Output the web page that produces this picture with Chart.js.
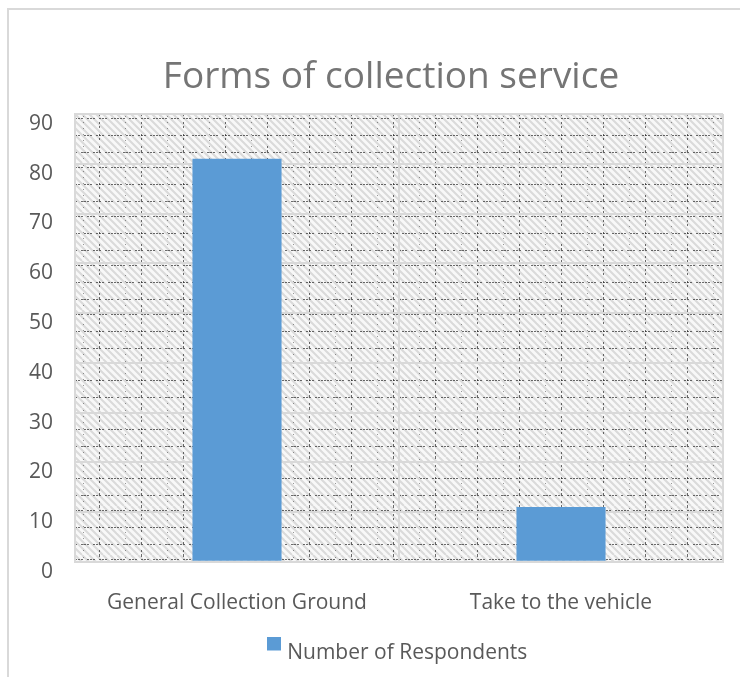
<!DOCTYPE html>
<html>
<head>
<meta charset="utf-8">
<script src="https://cdn.jsdelivr.net/npm/chart.js@4"></script>
<style>
  html, body { margin: 0; padding: 0; background: #ffffff; }
  #wrap { width: 740px; height: 677px; position: relative; }
</style>
</head>
<body>
<div id="wrap"><canvas id="chart" width="740" height="677"></canvas></div>
<script>
// Survey answers
const categories = ['General Collection Ground', 'Take to the vehicle'];
const respondents = [81, 11];
const seriesName = 'Number of Respondents';
const chartTitle = 'Forms of collection service';
const yTicks = [0, 10, 20, 30, 40, 50, 60, 70, 80, 90];

const textColor = '#595959';
const gridColor = '#d9d9d9';
const barColor = '#5b9bd5';
const fontFamily = '"Open Sans", sans-serif';

// hatched fill for the plot area: light diagonal stripes with dark dotted rows
function makePattern(ctx) {
    const w = 42, h = 49;
    const tile = document.createElement('canvas');
    tile.width = w;
    tile.height = h;
    const t = tile.getContext('2d');
    t.fillStyle = '#f8f8f8';
    t.fillRect(0, 0, w, h);
    t.strokeStyle = '#dadada';
    t.lineWidth = 2;
    for (let c = -h; c < w + h; c += 7) {
        t.beginPath();
        t.moveTo(c, 0);
        t.lineTo(c + h, h);
        t.stroke();
    }
    t.fillStyle = 'rgba(30,30,30,0.65)';
    [4, 21, 38].forEach((y, r) => {
        for (let x = 0; x < w; x += 3) {
            if ((x / 3 + r) % 4 !== 3) t.fillRect(x, y, 2, 1);
        }
    });
    for (let y = 0; y < h; y += 4) {
        if ((y / 4) % 3 !== 1) t.fillRect(24, y, 1, 2);
    }
    t.fillStyle = 'rgba(30,30,30,0.45)';
    for (let y = 2; y < h; y += 6) t.fillRect(8, y, 1, 1);
    return ctx.createPattern(tile, 'repeat');
}

// legend marker sitting a little above the text line
function makeLegendMarker() {
    const c = document.createElement('canvas');
    c.width = 14;
    c.height = 34;
    const g = c.getContext('2d');
    g.fillStyle = barColor;
    g.fillRect(0, 0, 14, 14);
    return c;
}

const plotBackground = {
    id: 'plotBackground',
    beforeDraw(chart) {
        const { ctx, chartArea: a } = chart;
        const pat = makePattern(ctx);
        pat.setTransform(new DOMMatrix().translate(a.left, a.top));
        ctx.save();
        ctx.fillStyle = pat;
        ctx.fillRect(a.left, a.top, a.right - a.left, a.bottom - a.top);
        ctx.restore();
    }
};

// frame round the chart object and the heading
const frameAndTitle = {
    id: 'frameAndTitle',
    afterDraw(chart) {
        const ctx = chart.ctx;
        ctx.save();
        ctx.strokeStyle = gridColor;
        ctx.lineWidth = 2;
        ctx.beginPath();
        ctx.moveTo(8, 677);
        ctx.lineTo(8, 9);
        ctx.lineTo(740, 9);
        ctx.stroke();

        ctx.fillStyle = '#757575';
        ctx.font = '37px ' + fontFamily;
        ctx.textAlign = 'center';
        ctx.textBaseline = 'alphabetic';
        ctx.fillText(chartTitle, 391, 88);
        ctx.restore();
    }
};

new Chart(document.getElementById('chart'), {
    type: 'bar',
    data: {
        labels: categories,
        datasets: [{
            label: seriesName,
            data: respondents,
            backgroundColor: barColor,
            borderWidth: 0,
            barPercentage: 1,
            categoryPercentage: 0.275
        }]
    },
    options: {
        responsive: false,
        animation: false,
        layout: { padding: { left: 8, right: 17, top: 114, bottom: 3 } },
        font: { family: fontFamily },
        plugins: {
            title: { display: false },
            legend: {
                position: 'bottom',
                fullSize: false,
                labels: {
                    color: textColor,
                    usePointStyle: true,
                    pointStyle: makeLegendMarker(),
                    pointStyleWidth: 6,
                    boxWidth: 14,
                    boxHeight: 14,
                    padding: 10,
                    font: { size: 21, family: fontFamily }
                }
            },
            tooltip: { enabled: false }
        },
        scales: {
            x: {
                grid: { color: gridColor, lineWidth: 2, drawTicks: false, offset: true },
                border: { color: gridColor, width: 2 },
                afterFit(scale) {
                    scale.height -= 12;
                },
                ticks: {
                    color: textColor,
                    padding: 29,
                    font: { size: 21, family: fontFamily }
                }
            },
            y: {
                min: 0,
                max: 90,
                afterBuildTicks(scale) {
                    scale.ticks = yTicks.map(v => ({ value: v }));
                },
                afterFit(scale) {
                    scale.width = 67;
                },
                grid: { color: gridColor, lineWidth: 2, drawTicks: false },
                border: { color: gridColor, width: 2 },
                ticks: {
                    color: textColor,
                    padding: 22,
                    labelOffset: 10,
                    font: { size: 21, family: fontFamily }
                }
            }
        }
    },
    plugins: [plotBackground, frameAndTitle]
});
</script>
</body>
</html>
